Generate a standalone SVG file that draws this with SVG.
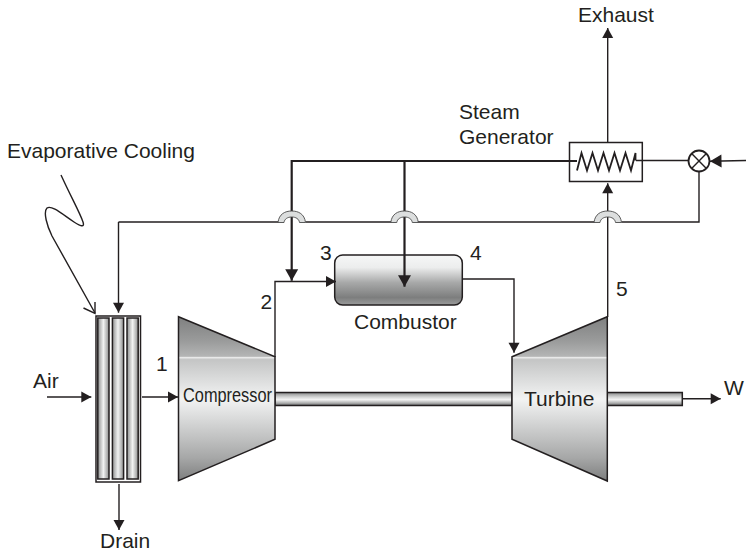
<svg xmlns="http://www.w3.org/2000/svg" width="746" height="555" viewBox="0 0 746 555">
<style>
text{font-family:"Liberation Sans",Arial,sans-serif;font-size:21px;fill:#231f20}
.l{fill:none;stroke:#231f20;stroke-width:1.4}
.h{fill:none;stroke:#231f20;stroke-width:2.2}
.s{stroke:#231f20;stroke-width:1.5}
.bo{fill:#dcdede;stroke:#4a4a4a;stroke-width:.9}
</style>
<defs>
<marker id="a" markerUnits="userSpaceOnUse" markerWidth="12" markerHeight="12" refX="10.500" refY="6" orient="auto"><path d="M0.500 0.500L10.500 6L0.500 11.500Z" fill="#231f20"/></marker>
<marker id="b" markerUnits="userSpaceOnUse" markerWidth="14" markerHeight="14" refX="12" refY="7" orient="auto"><path d="M0.500 0.500L12 7L0.500 13.500Z" fill="#231f20"/></marker>
<linearGradient id="m" gradientUnits="userSpaceOnUse" x1="0" y1="317" x2="0" y2="481">
<stop offset="0" stop-color="#7f8080"/><stop offset=".15" stop-color="#9b9c9c"/><stop offset=".24" stop-color="#b4b5b5"/><stop offset=".245" stop-color="#eeeeee"/><stop offset=".26" stop-color="#c4c5c5"/><stop offset=".5" stop-color="#f2f3f3"/><stop offset=".74" stop-color="#c0c1c1"/><stop offset=".86" stop-color="#a6a7a7"/><stop offset="1" stop-color="#7d7e7e"/>
</linearGradient>
<linearGradient id="c" x1="0" y1="0" x2="0" y2="1">
<stop offset="0" stop-color="#f6f7f7"/><stop offset=".25" stop-color="#eceded"/><stop offset=".55" stop-color="#a8a9a9"/><stop offset=".85" stop-color="#7d7e7e"/><stop offset="1" stop-color="#9a9b9b"/>
</linearGradient>
<linearGradient id="sh" x1="0" y1="0" x2="0" y2="1">
<stop offset="0" stop-color="#8a8b8b"/><stop offset=".35" stop-color="#d4d5d5"/><stop offset=".55" stop-color="#f4f4f4"/><stop offset=".8" stop-color="#b0b1b1"/><stop offset="1" stop-color="#6f7070"/>
</linearGradient>
<linearGradient id="t" x1="0" y1="0" x2="1" y2="0">
<stop offset="0" stop-color="#8e8f8f"/><stop offset=".5" stop-color="#f2f3f3"/><stop offset="1" stop-color="#8e8f8f"/>
</linearGradient>
</defs>

<g id="shaft">
<rect x="275" y="392.500" width="237" height="13" fill="url(#sh)" class="s"/>
<rect x="607" y="392.500" width="75.300" height="13" fill="url(#sh)" class="s"/>
</g>

<g id="evaporative-cooler">
<rect x="96" y="316" width="44.500" height="166" fill="#fff" class="s"/>
<rect x="97.800" y="318" width="11.200" height="161" fill="url(#t)" class="s"/>
<rect x="112.400" y="318" width="11.200" height="161" fill="url(#t)" class="s"/>
<rect x="127" y="318" width="11.200" height="161" fill="url(#t)" class="s"/>
</g>

<g id="compressor">
<path d="M178.500 316.700L275 356.700V439.300L178.500 480.700Z" fill="url(#m)" class="s"/>
<text x="183" y="402" textLength="89" lengthAdjust="spacingAndGlyphs">Compressor</text>
</g>

<g id="turbine">
<path d="M512 356.700L607.300 316.700V481L512 439.300Z" fill="url(#m)" class="s"/>
<text x="524" y="406">Turbine</text>
</g>

<g id="combustor">
<rect x="334.700" y="255" width="127.600" height="50" rx="8" fill="url(#c)" class="s"/>
<text x="354" y="328.700">Combustor</text>
</g>

<g id="steam-generator">
<rect x="569.500" y="142.500" width="72.800" height="39" fill="#fff" class="s"/>
<path d="M577 170.500L581.500 153L587 170.500L592.500 153L598 170.500L603.500 153L609 170.500L614.500 153L620 170.500L625.500 153L631 170.500L635.500 153V160.500" fill="none" stroke="#231f20" stroke-width="1.800"/>
<text x="459" y="119">Steam</text>
<text x="459" y="144">Generator</text>
</g>

<g id="mixer">
<circle cx="699" cy="161" r="10.500" fill="#fff" stroke="#231f20" stroke-width="1.800"/>
<path class="l" d="M691.600 153.600L706.400 168.400M706.400 153.600L691.600 168.400" stroke-width="1.600"/>
</g>

<g id="connectors">
<path class="l" d="M47 397H91.300" marker-end="url(#a)"/>
<path class="l" d="M142 397H178" marker-end="url(#a)"/>
<path class="l" d="M119 484V530" marker-end="url(#a)"/>
<path class="l" d="M682 398.700H720.700" marker-end="url(#a)"/>
<path class="l" d="M275 357V281.500H336" marker-end="url(#a)"/>
<path class="l" d="M462 279H514V352.700" marker-end="url(#a)"/>
<path class="l" d="M607.700 142V28" marker-end="url(#a)"/>
<path class="l" d="M607.700 317V183.300" marker-end="url(#a)"/>
<path class="l" d="M61 175C72 199 80 213 83 222C85 228 80 226 74 222C62 214 52 205 47 208C43 212 47 226 52 236L95 313"/>
<path class="l" d="M95 302V313.500L83.500 308"/>
<path class="l" d="M118.500 222H278M305.500 222H391M418 222H594M621.500 222H699V171.500"/>
<path class="l" d="M118.500 222V312.700" marker-end="url(#a)"/>
<path class="h" d="M577 161H291.700V280.700" marker-end="url(#b)"/>
<path class="h" d="M404.500 161V286.700" marker-end="url(#b)"/>
<path class="bo" d="M278 222.500C279 214 285 211 291.700 211C298.500 211 304.500 214 305.500 222.500L299.500 222.500C299 219 296 217 291.700 217C287.500 217 284.500 219 284 222.500Z"/>
<path class="bo" d="M390.800 222.500C391.800 214 397.800 211 404.500 211C411.300 211 417.300 214 418.300 222.500L412.300 222.500C411.800 219 408.800 217 404.500 217C400.300 217 397.300 219 396.800 222.500Z"/>
<path class="bo" d="M594 222.500C595 214 601 211 607.700 211C614.500 211 620.500 214 621.500 222.500L615.500 222.500C615 219 612 217 607.700 217C603.500 217 600.500 219 600 222.500Z"/>
<path class="l" d="M636 160.500H688.500"/>
<path class="l" d="M746 160.500L710 161.200" marker-end="url(#b)"/>
</g>

<g id="labels">
<text x="7" y="158">Evaporative Cooling</text>
<text x="578" y="22">Exhaust</text>
<text x="33" y="388">Air</text>
<text x="100" y="548">Drain</text>
<text x="156" y="370.500">1</text>
<text x="260.500" y="309">2</text>
<text x="320" y="260">3</text>
<text x="470" y="260">4</text>
<text x="616" y="296">5</text>
<text x="724" y="395">W</text>
</g>
</svg>
